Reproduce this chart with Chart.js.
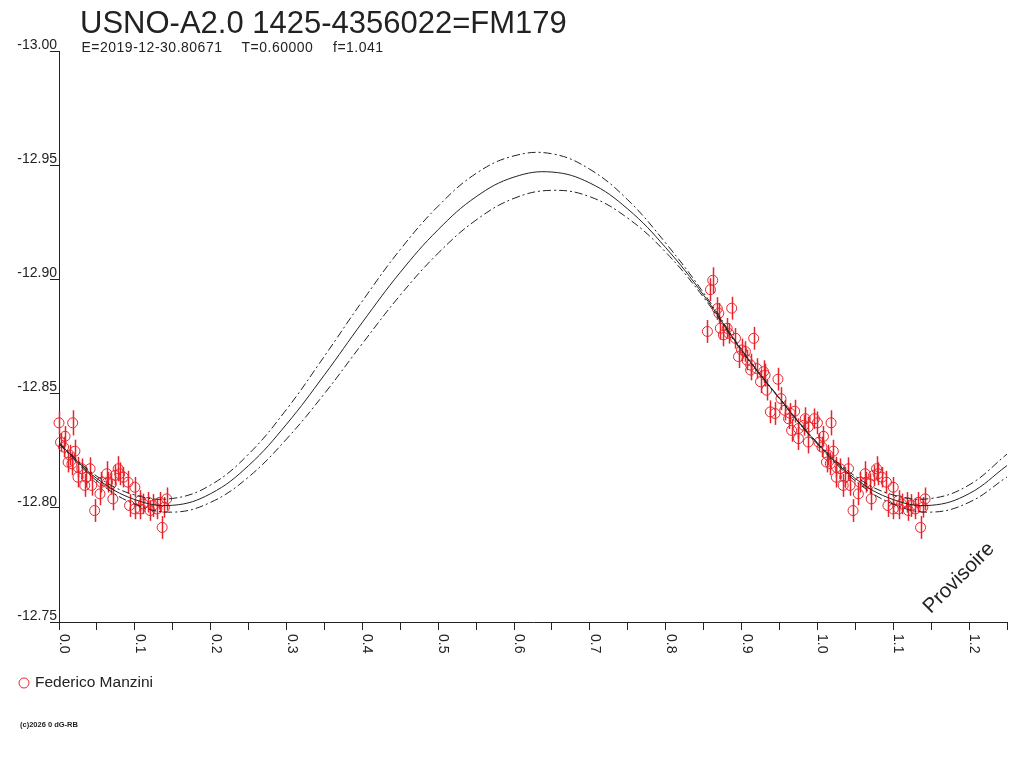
<!DOCTYPE html>
<html>
<head>
<meta charset="utf-8">
<script src="https://cdn.jsdelivr.net/npm/chart.js@4.4.1/dist/chart.umd.min.js"></script>
<style>
  html, body { margin: 0; padding: 0; background: #ffffff; }
  #wrap { width: 1024px; height: 768px; }
</style>
</head>
<body>
<div id="wrap"><canvas id="c" width="1024" height="768"></canvas></div>
<script>
// ---------- texts ----------
const titleText = "USNO-A2.0 1425-4356022=FM179";
const subtitleParts = ["E=2019-12-30.80671", "T=0.60000", "f=1.041"];
const observerName = "Federico Manzini";
const copyrightText = "(c)2026 0 dG-RB";
const watermarkText = "Provisoire";

// ---------- axes ----------
const X_MIN = 0, X_MAX = 1.25, X_STEP = 0.05;
const Y_MIN = -13.00, Y_MAX = -12.75, Y_STEP = 0.05;
const xLabelValues = [0.0, 0.1, 0.2, 0.3, 0.4, 0.5, 0.6, 0.7, 0.8, 0.9, 1.0, 1.1, 1.2];
const xLabelTexts = ["0.0","0.1","0.2","0.3","0.4","0.5","0.6","0.7","0.8","0.9","1.0","1.1","1.2"];

// ---------- model curves ----------
const curvePhase = [0.00,0.05,0.10,0.15,0.20,0.25,0.30,0.35,0.40,0.45,0.50,0.55,0.60,0.65,0.70,0.75,0.80,0.85,0.90,0.95,1.00,1.05,1.10,1.15,1.20,1.25];
const curveMid   = [-12.8282,-12.8128,-12.8036,-12.8011,-12.8062,-12.8185,-12.8366,-12.8582,-12.8812,-12.9031,-12.9218,-12.9362,-12.9448,-12.9470,-12.9422,-12.9308,-12.9139,-12.8931,-12.8690,-12.8479,-12.8282,-12.8128,-12.8036,-12.8011,-12.8062,-12.8185];
const curveUpper = [-12.8285,-12.8138,-12.8056,-12.8041,-12.8100,-12.8235,-12.8431,-12.8664,-12.8905,-12.9131,-12.9321,-12.9464,-12.9541,-12.9550,-12.9482,-12.9348,-12.9159,-12.8941,-12.8693,-12.8481,-12.8285,-12.8138,-12.8056,-12.8041,-12.8100,-12.8235];
const curveLower = [-12.8279,-12.8118,-12.8016,-12.7981,-12.8024,-12.8135,-12.8301,-12.8500,-12.8719,-12.8931,-12.9115,-12.9260,-12.9355,-12.9390,-12.9362,-12.9268,-12.9119,-12.8921,-12.8687,-12.8477,-12.8279,-12.8118,-12.8016,-12.7981,-12.8024,-12.8135];

// ---------- observations (phase, magnitude, error) ----------
const obsPhase = [
  0.000,0.018,0.008,0.002,0.006,0.021,0.014,0.012,0.017,0.025,0.030,0.041,0.025,0.036,0.034,0.043,0.054,0.047,0.063,0.056,0.064,
  0.078,0.080,0.074,0.085,0.091,0.069,0.071,0.100,0.093,0.100,0.107,0.111,0.118,0.124,0.129,0.133,0.142,0.139,0.136,0.107,0.120,
  0.862,0.859,0.887,0.868,0.870,0.855,0.872,0.881,0.876,0.883,0.916,0.892,0.900,0.905,0.896,0.907,0.912,0.920,0.929,
  0.912,0.925,0.948,0.933,0.952,0.938,0.944,0.957,0.970,0.962,0.966,0.975,0.984,0.996,0.982,0.975,0.988,0.988,0.964,0.931
];
const obsMag = [
  -12.8372,-12.8372,-12.8313,-12.8287,-12.8266,-12.8248,-12.8231,-12.8200,-12.8193,-12.8178,-12.8171,-12.8171,-12.8134,-12.8134,-12.8098,-12.8098,-12.8061,-12.7988,-12.8149,-12.8112,-12.8112,
  -12.8171,-12.8149,-12.8142,-12.8134,-12.8112,-12.8105,-12.8039,-12.8090,-12.8010,-12.7995,-12.8032,-12.8017,-12.8024,-12.8010,-12.7995,-12.8024,-12.8039,-12.8002,-12.7914,-12.7995,-12.7988,
  -12.8996,-12.8955,-12.8874,-12.8872,-12.8852,-12.8772,-12.8786,-12.8786,-12.8757,-12.8764,-12.8742,-12.8742,-12.8691,-12.8684,-12.8662,-12.8647,-12.8625,-12.8610,-12.8596,
  -12.8603,-12.8552,-12.8563,-12.8515,-12.8478,-12.8420,-12.8413,-12.8427,-12.8423,-12.8390,-12.8339,-12.8347,-12.8390,-12.8390,-12.8361,-12.8303,-12.8288,-12.8354,-12.8414,-12.8581
];
const obsErr = [
  0.0050,0.0055,0.0045,0.0040,0.0045,0.0050,0.0045,0.0045,0.0050,0.0045,0.0045,0.0050,0.0045,0.0045,0.0050,0.0045,0.0050,0.0050,0.0055,0.0045,0.0045,
  0.0055,0.0050,0.0045,0.0045,0.0050,0.0045,0.0050,0.0045,0.0050,0.0045,0.0045,0.0045,0.0045,0.0050,0.0045,0.0045,0.0050,0.0045,0.0050,0.0045,0.0045,
  0.0057,0.0050,0.0050,0.0050,0.0045,0.0050,0.0050,0.0045,0.0050,0.0045,0.0050,0.0045,0.0050,0.0045,0.0050,0.0045,0.0050,0.0045,0.0050,
  0.0045,0.0050,0.0050,0.0045,0.0050,0.0050,0.0050,0.0045,0.0050,0.0045,0.0050,0.0045,0.0050,0.0045,0.0045,0.0050,0.0050,0.0045,0.0045,0.0050
];

// ---------- styles ----------
const INK = '#222222';
const RED = '#e8232b';
const FONT = '"Liberation Sans", Arial, sans-serif';

// build datasets from arrays
const toXY = (ys) => curvePhase.map((p, i) => ({ x: p, y: ys[i] }));
const obsPoints = [];
obsPhase.forEach((p, i) => {
  [p, p + 1].forEach(ph => {
    if (ph >= X_MIN && ph <= X_MAX) obsPoints.push({ x: ph, y: obsMag[i], err: obsErr[i] });
  });
});

const lineCommon = { showLine: true, pointRadius: 0, borderColor: INK, borderWidth: 1, tension: 0.4, fill: false, clip: false };

const decorPlugin = {
  id: 'decor',
  beforeDatasetsDraw(chart) {
    const ctx = chart.ctx, xs = chart.scales.x, ys = chart.scales.y;
    const ds = chart.data.datasets[3].data;
    ctx.save();
    ctx.strokeStyle = RED;
    ctx.lineWidth = 1.5;
    ds.forEach(d => {
      const px = Math.round(xs.getPixelForValue(d.x)) + 0.5;
      ctx.beginPath();
      ctx.moveTo(px, ys.getPixelForValue(d.y - d.err));
      ctx.lineTo(px, ys.getPixelForValue(d.y + d.err));
      ctx.stroke();
    });
    ctx.restore();
  },
  afterDraw(chart) {
    const ctx = chart.ctx, xs = chart.scales.x;
    ctx.save();
    ctx.fillStyle = INK;
    // title
    ctx.font = '31px ' + FONT;
    ctx.textAlign = 'left';
    ctx.textBaseline = 'alphabetic';
    ctx.fillText(titleText, 80, 33);
    // subtitle
    ctx.font = '14px ' + FONT;
    if ('letterSpacing' in ctx) ctx.letterSpacing = '0.5px';
    const subX = [81.5, 241.5, 333];
    subtitleParts.forEach((t, i) => ctx.fillText(t, subX[i], 52));
    if ('letterSpacing' in ctx) ctx.letterSpacing = '0px';
    // x labels rotated clockwise
    ctx.font = '14px ' + FONT;
    xLabelValues.forEach((v, i) => {
      const px = xs.getPixelForValue(v);
      ctx.save();
      ctx.translate(px + 1, 634);
      ctx.rotate(Math.PI / 2);
      ctx.textAlign = 'left';
      ctx.textBaseline = 'alphabetic';
      ctx.fillText(xLabelTexts[i], 0, 0);
      ctx.restore();
    });
    // watermark
    ctx.save();
    ctx.translate(959, 578);
    ctx.rotate(-Math.PI / 4);
    ctx.font = '20.5px ' + FONT;
    ctx.textAlign = 'center';
    ctx.textBaseline = 'middle';
    ctx.fillText(watermarkText, 0, 0);
    ctx.restore();
    // legend
    ctx.strokeStyle = RED;
    ctx.lineWidth = 1;
    ctx.beginPath();
    ctx.arc(24, 683, 5, 0, Math.PI * 2);
    ctx.stroke();
    ctx.fillStyle = INK;
    ctx.font = '15.5px ' + FONT;
    ctx.textBaseline = 'middle';
    ctx.fillText(observerName, 35, 683);
    // copyright
    ctx.font = 'bold 7.5px ' + FONT;
    ctx.fillText(copyrightText, 20, 725);
    ctx.restore();
  }
};

new Chart(document.getElementById('c'), {
  type: 'scatter',
  data: {
    datasets: [
      Object.assign({ label: 'upper', data: toXY(curveUpper), borderDash: [8, 3, 2, 3] }, lineCommon),
      Object.assign({ label: 'model', data: toXY(curveMid) }, lineCommon),
      Object.assign({ label: 'lower', data: toXY(curveLower), borderDash: [8, 3, 2, 3] }, lineCommon),
      {
        label: observerName,
        data: obsPoints,
        pointStyle: 'circle',
        pointRadius: 5,
        pointBorderWidth: 1,
        borderColor: RED,
        pointBorderColor: RED,
        backgroundColor: 'rgba(0,0,0,0)',
        pointBackgroundColor: 'rgba(0,0,0,0)',
        showLine: false,
        clip: false
      }
    ]
  },
  options: {
    responsive: false,
    animation: false,
    devicePixelRatio: 1,
    layout: { padding: { left: 0, right: 17, top: 51, bottom: 126 } },
    plugins: { legend: { display: false }, tooltip: { enabled: false }, title: { display: false } },
    scales: {
      x: {
        type: 'linear', min: X_MIN, max: X_MAX,
        afterFit(s) { s.height = 20; },
        ticks: { stepSize: X_STEP, autoSkip: false, callback: () => '', maxRotation: 0 },
        grid: { display: true, drawOnChartArea: false, drawTicks: true, tickLength: 8, color: INK, lineWidth: 1 },
        border: { display: true, color: INK, width: 1 }
      },
      y: {
        type: 'linear', min: Y_MIN, max: Y_MAX, reverse: true,
        afterFit(s) { s.width = 59; },
        ticks: {
          stepSize: Y_STEP, autoSkip: false,
          callback: (v) => Number(v).toFixed(2),
          font: { family: FONT, size: 14 }, color: INK,
          labelOffset: -6, padding: -7
        },
        grid: { display: true, drawOnChartArea: false, drawTicks: true, tickLength: 9, color: INK, lineWidth: 1 },
        border: { display: true, color: INK, width: 1 }
      }
    }
  },
  plugins: [decorPlugin]
});
</script>
</body>
</html>
